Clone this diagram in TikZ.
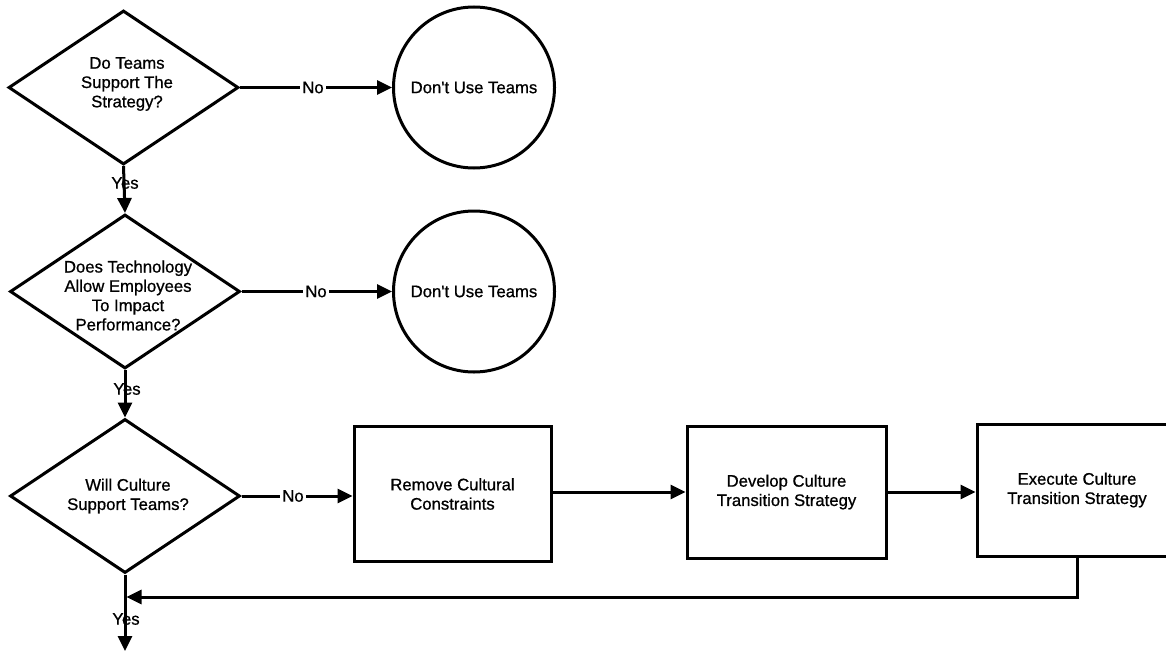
\documentclass[tikz,border=0pt]{standalone}
\usepackage{fontspec}
\setmainfont{Liberation Sans}[FakeBold=0.8]
\usetikzlibrary{shapes.geometric,arrows.meta}
\begin{document}
\begin{tikzpicture}[x=1pt,y=-1pt,
  every node/.style={font=\fontsize{16.7}{19.3}\selectfont},
  outline/.style={draw, line width=3pt},
  decision/.style={outline, diamond, inner sep=0pt, minimum width=230pt, minimum height=154pt},
  stop/.style={outline, circle, inner sep=0pt, minimum size=161pt},
  action/.style={outline, rectangle, inner sep=0pt, align=center},
  qtext/.style={align=center, inner sep=0pt},
  nolabel/.style={inner sep=2.5pt},
  yeslabel/.style={inner sep=0pt},
  link/.style={line width=3pt},
  arrow/.style={link, -{Triangle[length=15pt,width=14pt]}}]

\useasboundingbox (0,0) rectangle (1166,653);
\fill[white] (0,0) rectangle (1166,653);
\clip (0,0) rectangle (1166,653);

% decisions
\node[decision] (d1) at (123.5,87.5) {};
\node[qtext] (q1) at (127,84) {Do Teams\\Support The\\Strategy?};
\node[decision] (d2) at (125,291.5) {};
\node[qtext] (q2) at (128,295.5) {Does Technology\\Allow Employees\\To Impact\\Performance?};
\node[decision] (d3) at (125,496) {};
\node[qtext] (q3) at (128,496) {Will Culture\\Support Teams?};

% outcomes of a "No"
\node[stop] (c1) at (474,87.5) {Don\textquotesingle t Use Teams};
\node[stop] (c2) at (474,291.5) {Don\textquotesingle t Use Teams};

% culture change steps
\node[action, minimum width=197pt, minimum height=135pt] (b1) at (452.5,494) {Remove Cultural\\Constraints};
\node[action, minimum width=199pt, minimum height=132pt] (b2) at (786.5,492) {Develop Culture\\Transition Strategy};
\node[action, minimum width=200pt, minimum height=132pt] (b3) at (1077,490) {Execute Culture\\Transition Strategy};

% "No" branches
\node[nolabel] (n1) at (313,87.5) {No};
\node[nolabel] (n2) at (316,291.5) {No};
\node[nolabel] (n3) at (293,496) {No};
\draw[link] (d1.east) -- (n1.west);
\draw[arrow] (n1.east) -- (c1.west);
\draw[link] (d2.east) -- (n2.west);
\draw[arrow] (n2.east) -- (c2.west);
\draw[link] (d3.east) -- (n3.west);
\draw[arrow] (n3.east) -- (n3.east -| b1.west);

% step sequence
\draw[arrow] (b1.east |- b2.west) -- (b2.west);
\draw[arrow] (b2.east) -- (b2.east -| b3.west);

% "Yes" branches
\draw[arrow] (d1.south) -- (d2.north);
\node[yeslabel] (y1) at (125,183) {Yes};
\draw[arrow] (d2.south) -- (d3.north);
\node[yeslabel] (y2) at (127,389) {Yes};
\coordinate (exit) at (125,651);
\draw[arrow] (d3.south) -- (exit);
\node[yeslabel] (y3) at (126,619) {Yes};

% return from the last step
\coordinate (rejoin) at (126.5,597);
\draw[arrow] (b3.south) |- (rejoin);
\end{tikzpicture}
\end{document}
